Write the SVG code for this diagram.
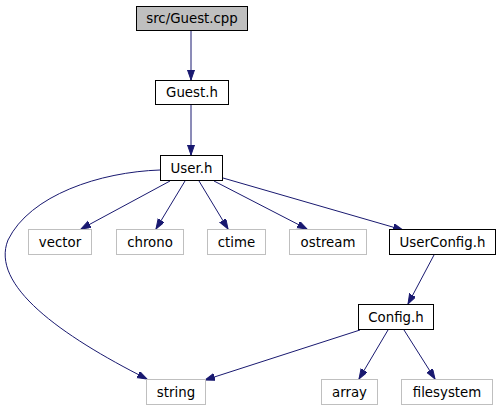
<svg xmlns="http://www.w3.org/2000/svg" width="501" height="411" viewBox="0 0 501 411">
<style>
.n rect{fill:#fff;stroke:#000;stroke-width:1}
.g rect{fill:#fff;stroke:#bfbfbf;stroke-width:1}
.r rect{fill:#bfbfbf;stroke:#000;stroke-width:1}
text{font-family:"DejaVu Sans",sans-serif;font-size:13.33px;text-anchor:middle;fill:#000}
.e path{fill:none;stroke:#191970;stroke-width:1;marker-end:url(#a)}
</style>
<defs>
<marker id="a" markerUnits="userSpaceOnUse" markerWidth="12" markerHeight="10" refX="10" refY="3.5" orient="auto">
<path d="M0,0 L10,3.5 L0,7 Z" fill="#191970" stroke="#191970"/>
</marker>
</defs>
<rect width="501" height="411" fill="#fff"/>
<g class="e">
<path d="M191,30 V80"/>
<path d="M191,104 V155"/>
<path d="M170,181 L81,229"/>
<path d="M185,181 L156,229"/>
<path d="M199,181 L228,229"/>
<path d="M214,181 L307,229"/>
<path d="M223,178 L403,230"/>
<path d="M160,170 C 100,172 30,195 8,240 C -10,285 60,335 147,379"/>
<path d="M434,255 L408,304"/>
<path d="M360,330 L205,380"/>
<path d="M388,330 L359,379"/>
<path d="M404,330 L435,379"/>
</g>
<g id="guestcpp" class="r"><rect x="136.5" y="6.5" width="111" height="24"/><text x="192" y="23">src/Guest.cpp</text></g>
<g id="guesth" class="n"><rect x="155.5" y="80.5" width="73" height="24"/><text x="192" y="97">Guest.h</text></g>
<g id="userh" class="n"><rect x="160.5" y="155.5" width="62" height="25"/><text x="191.5" y="172.5">User.h</text></g>
<g id="vector" class="g"><rect x="28.5" y="229.5" width="63" height="25"/><text x="60" y="246.5">vector</text></g>
<g id="chrono" class="g"><rect x="116.5" y="229.5" width="67" height="25"/><text x="150" y="246.5">chrono</text></g>
<g id="ctime" class="g"><rect x="207.5" y="229.5" width="58" height="25"/><text x="236.5" y="246.5">ctime</text></g>
<g id="ostream" class="g"><rect x="289.5" y="229.5" width="77" height="25"/><text x="328" y="246.5">ostream</text></g>
<g id="userconfig" class="n"><rect x="389.5" y="229.5" width="106" height="25"/><text x="442.5" y="246.5">UserConfig.h</text></g>
<g id="configh" class="n"><rect x="358.5" y="304.5" width="75" height="25"/><text x="396" y="321.5">Config.h</text></g>
<g id="string" class="g"><rect x="146.5" y="379.5" width="59" height="25"/><text x="176" y="396.5">string</text></g>
<g id="array" class="g"><rect x="321.5" y="379.5" width="56" height="25"/><text x="349.5" y="396.5">array</text></g>
<g id="filesystem" class="g"><rect x="401.5" y="379.5" width="91" height="25"/><text x="447" y="396.5">filesystem</text></g>
</svg>
